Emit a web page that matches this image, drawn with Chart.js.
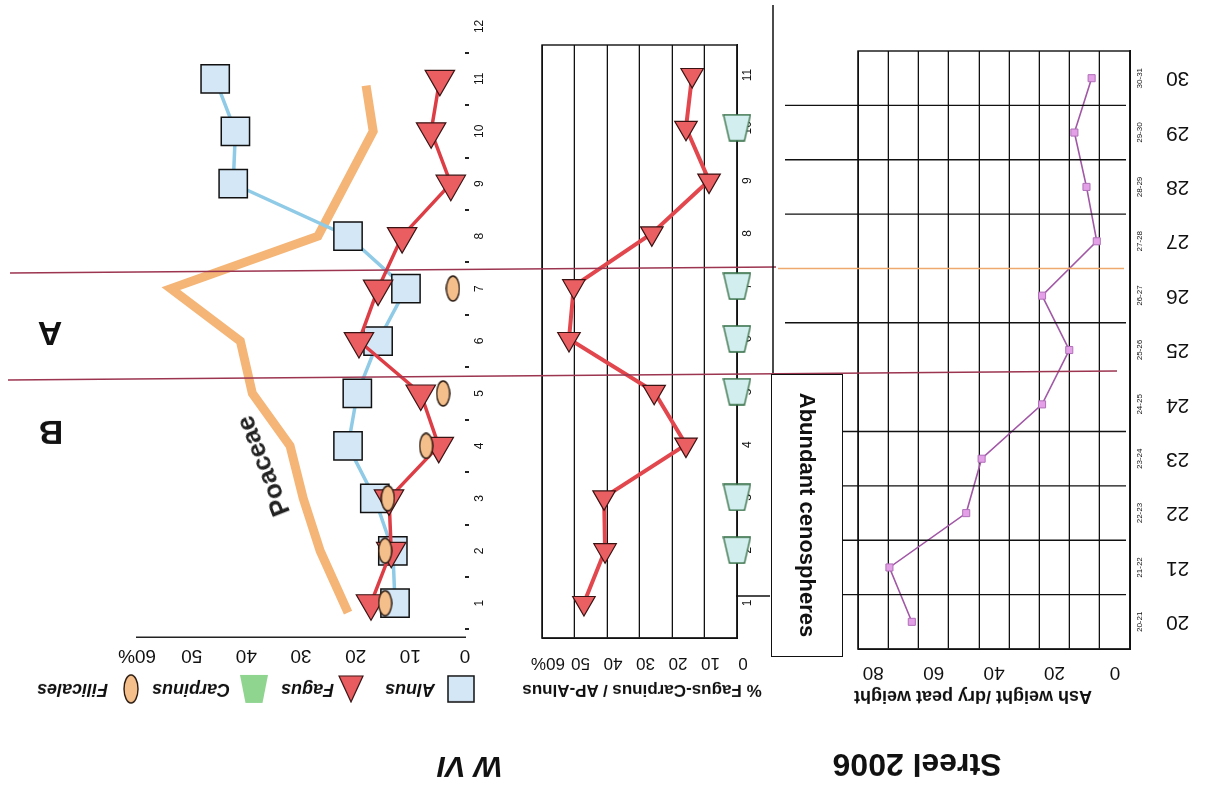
<!DOCTYPE html>
<html>
<head>
<meta charset="utf-8">
<title>W VI / Streel 2006</title>
<script src="https://cdn.jsdelivr.net/npm/chart.js"></script>
<style>
  html, body { margin: 0; padding: 0; background: #fff; }
  body { width: 1207px; height: 787px; overflow: hidden; font-family: "Liberation Sans", Arial, sans-serif; }
  /* the scanned figure is upside down: draw it upright, then turn the whole sheet */
  #fig { position: absolute; left: 0; top: 0; width: 1207px; height: 787px; transform: rotate(180deg); }
  #fig canvas { position: absolute; left: 0; top: 0; }
  .txt { position: absolute; white-space: nowrap; color: #111; font-weight: bold; transform: translate(-50%, -50%); }
  .leg { position: absolute; white-space: nowrap; color: #111; font-weight: bold; font-style: italic; font-size: 18px; transform: translateY(-50%); }
  #ceno { position: absolute; left: 364px; top: 130px; width: 70px; height: 281px; border: 1.5px solid #111; background: #fff; }
  #ceno span { position: absolute; left: 50%; top: 50%; transform: translate(-50%, -50%) rotate(-90deg); font-size: 22px; font-weight: bold; white-space: nowrap; color: #111; }
</style>
</head>
<body>
<div id="fig">
  <canvas id="pollen" width="1207" height="787"></canvas>
  <canvas id="ratio" width="1207" height="787"></canvas>
  <canvas id="ashChart" width="1207" height="787"></canvas>

  <div class="txt" style="left:737px;top:20px;font-size:30px;font-style:italic;">W VI</div>
  <div class="txt" style="left:290px;top:22px;font-size:32px;">Streel 2006</div>
  <div class="txt" style="left:565px;top:97px;font-size:17px;">% Fagus-Carpinus / AP-Alnus</div>
  <div class="txt" style="left:234px;top:90px;font-size:18px;">Ash weight /dry peat weight</div>
  <div class="txt" style="left:1157px;top:453px;font-size:34px;">A</div>
  <div class="txt" style="left:1156px;top:354px;font-size:34px;">B</div>
  <div class="txt" style="left:944px;top:321px;font-size:26px;color:#222;transform:translate(-50%,-50%) rotate(68.5deg);">Poaceae</div>
  <div id="ceno"><span>Abundant cenospheres</span></div>
  <div id="legend"></div>
</div>

<script>
"use strict";

// W VI pollen percentages, samples 1-11
const samples = [1, 2, 3, 4, 5, 6, 7, 8, 9, 10, 11];
const alnus = [12.8, 13.2, 16.5, 21.4, 19.7, 15.9, 10.8, 21.4, 42.4, 42.0, 45.7];
const fagus = [17.2, 13.5, 13.9, 4.8, 8.1, 19.4, 15.9, 11.5, 2.6, 6.2, 4.6];
const filicales = [14.6, 14.6, 14.1, 7.1, 4.0, null, 2.2, null, null, null, null];
const poaceaeDepth = [0.82, 2, 3, 4, 5, 6, 7, 8, 10, 10.87];
const poaceae = [21.4, 26.5, 29.6, 32.0, 38.9, 41.1, 53.8, 26.9, 16.8, 18.1];
const pctTicks = [0, 10, 20, 30, 40, 50, 60];

// % Fagus-Carpinus / AP-Alnus
const fagusRatio = [47.1, 40.6, 40.9, 15.7, 25.5, 51.7, 50.2, 26.2, 8.6, 15.7, 13.8];
const carpinusSamples = [2, 3, 5, 6, 7, 10];
const carpinus = [0, 0, 0, 0, 0, 0];

// Streel 2006, ash weight / dry peat weight
const ashSamples = [20, 21, 22, 23, 24, 25, 26, 27, 28, 29, 30];
const ashRanges = ["20-21", "21-22", "22-23", "23-24", "24-25", "25-26", "26-27", "27-28", "28-29", "29-30", "30-31"];
const ash = [67.2, 74.6, 49.2, 44.1, 24.1, 15.1, 24.1, 6.0, 9.4, 13.4, 7.7];
const ashGrid = [-5, 5, 15, 25, 35, 45, 55, 65, 75, 85];
const ashBoundaries = [20.5, 21.5, 22.5, 23.5, 24.5, 25.5, 26.5, 27.5, 28.5, 29.5];

// sample axis of the pollen diagram: labels on whole samples, tick dots between
const pollenTicks = [];
for (let v = 0.5; v <= 12; v += 0.5) pollenTicks.push(v);

Chart.defaults.font.family = '"Liberation Sans", Arial, sans-serif';
Chart.defaults.color = "#111";

function points(values, depths) {
  const out = [];
  values.forEach(function (v, i) {
    if (v !== null) out.push({ x: v, y: depths[i] });
  });
  return out;
}

function fixedTicks(values) {
  return function (s) {
    s.ticks = values.map(function (v) { return { value: v }; });
  };
}

function makeIcon(w, h, paint) {
  const c = document.createElement("canvas");
  c.width = w;
  c.height = h;
  paint(c.getContext("2d"), w, h);
  return c;
}

function ellipseIcon(w, h) {
  return makeIcon(w, h, function (ctx) {
    ctx.beginPath();
    ctx.ellipse(w / 2, h / 2, w / 2 - 1, h / 2 - 1, 0, 0, Math.PI * 2);
    ctx.fillStyle = "#f5bf8c";
    ctx.fill();
    ctx.lineWidth = 1.4;
    ctx.strokeStyle = "#2a1a10";
    ctx.stroke();
  });
}

function trapIcon(w, h, top, fill, stroke) {
  return makeIcon(w, h, function (ctx) {
    const inset = (w - top) / 2;
    ctx.beginPath();
    ctx.moveTo(inset, 1);
    ctx.lineTo(w - inset, 1);
    ctx.lineTo(w - 1, h - 1);
    ctx.lineTo(1, h - 1);
    ctx.closePath();
    ctx.fillStyle = fill;
    ctx.fill();
    if (stroke) {
      ctx.lineWidth = 1.3;
      ctx.strokeStyle = stroke;
      ctx.stroke();
    }
  });
}

function squareIcon(s) {
  return makeIcon(s, s, function (ctx) {
    ctx.fillStyle = "#d4e7f6";
    ctx.fillRect(1, 1, s - 2, s - 2);
    ctx.lineWidth = 1.5;
    ctx.strokeStyle = "#111";
    ctx.strokeRect(1, 1, s - 2, s - 2);
  });
}

function triangleIcon(w, h) {
  return makeIcon(w, h, function (ctx) {
    ctx.beginPath();
    ctx.moveTo(w / 2, 1);
    ctx.lineTo(w - 1, h - 1);
    ctx.lineTo(1, h - 1);
    ctx.closePath();
    ctx.fillStyle = "#e85b5e";
    ctx.fill();
    ctx.lineWidth = 1.2;
    ctx.strokeStyle = "#3a1414";
    ctx.stroke();
  });
}

const filicalesPoint = ellipseIcon(15, 27);
const carpinusPoint = trapIcon(29, 28, 15, "#d3eeee", "#2f6b40");

// frame round the plot area
const framePlugin = {
  id: "frame",
  beforeDatasetsDraw(chart, args, opts) {
    const a = chart.chartArea;
    const ctx = chart.ctx;
    ctx.save();
    ctx.lineWidth = opts.width || 1.3;
    ctx.strokeStyle = opts.color || "#111";
    ctx.strokeRect(a.left, a.top, a.right - a.left, a.bottom - a.top);
    ctx.restore();
  },
};

// stratigraphic lines drawn across the sheet
const stratPlugin = {
  id: "strat",
  afterDraw(chart) {
    const ctx = chart.ctx;
    const y = chart.scales.y;
    const a = chart.chartArea;
    ctx.save();
    ctx.lineWidth = 1.4;
    ashBoundaries.forEach(function (b) {
      if (b === 24.5) return;
      const py = y.getPixelForValue(b);
      ctx.beginPath();
      if (b === 26.5) {
        ctx.strokeStyle = "#eeaa6e";
        ctx.moveTo(a.left + 6, py);
        ctx.lineTo(429, py);
      } else {
        ctx.strokeStyle = "#111";
        ctx.moveTo(a.left + 4, py);
        ctx.lineTo(py > 414 ? 422 : 364, py);
      }
      ctx.stroke();
    });
    // zone limits A / B
    ctx.strokeStyle = "#9c3550";
    ctx.lineWidth = 1.6;
    ctx.beginPath();
    ctx.moveTo(1197, 514);
    ctx.lineTo(431, 520);
    ctx.moveTo(1199, 407);
    ctx.lineTo(90, 416);
    ctx.stroke();
    ctx.strokeStyle = "#111";
    ctx.lineWidth = 1.5;
    ctx.beginPath();
    ctx.moveTo(434, 414);
    ctx.lineTo(434, 782);
    ctx.moveTo(437, 191);
    ctx.lineTo(471, 191);
    ctx.stroke();
    ctx.restore();
  },
};

const pctLabel = function (v) {
  return v === 60 ? "60%" : String(v);
};
const sampleLabel = function (v) {
  return Number.isInteger(v) ? String(v) : "";
};

// ---- W VI pollen diagram ----
new Chart(document.getElementById("pollen"), {
  type: "line",
  data: {
    datasets: [
      {
        label: "Filicales",
        data: points(filicales, samples),
        showLine: false,
        pointStyle: filicalesPoint,
        clip: false,
      },
      {
        label: "Fagus",
        data: points(fagus, samples),
        borderColor: "#dd3d45",
        borderWidth: 3.5,
        pointStyle: "triangle",
        pointRadius: 17,
        pointBackgroundColor: "#ea5d61",
        pointBorderColor: "#3a1414",
        pointBorderWidth: 1.2,
        clip: false,
      },
      {
        label: "Alnus",
        data: points(alnus, samples),
        borderColor: "#8fcae6",
        borderWidth: 3.5,
        pointStyle: "rect",
        pointRadius: 20,
        pointBackgroundColor: "#d4e7f6",
        pointBorderColor: "#111",
        pointBorderWidth: 1.5,
        clip: false,
      },
      {
        label: "Poaceae",
        data: points(poaceae, poaceaeDepth),
        borderColor: "#f4b577",
        borderWidth: 9,
        borderJoinStyle: "miter",
        pointRadius: 0,
        clip: false,
      },
    ],
  },
  options: {
    responsive: false,
    animation: false,
    events: [],
    layout: { autoPadding: false, padding: { left: 712, right: 137, top: 120, bottom: 7 } },
    plugins: { legend: { display: false }, tooltip: { enabled: false } },
    scales: {
      x: {
        type: "linear",
        position: "top",
        bounds: "data",
        min: 0,
        max: 60,
        afterBuildTicks: fixedTicks(pctTicks),
        ticks: { callback: pctLabel, font: { size: 19 }, padding: 7, maxRotation: 0, autoSkip: false },
        grid: { drawOnChartArea: false, drawTicks: false },
        border: { display: true, color: "#222", width: 1.5 },
        afterFit: function (s) { s.height = 30; },
      },
      y: {
        type: "linear",
        reverse: true,
        bounds: "data",
        min: 0.356,
        max: 12.29,
        afterBuildTicks: fixedTicks(pollenTicks),
        ticks: {
          autoSkip: false,
          callback: sampleLabel,
          font: { size: 12 },
          minRotation: -90,
          maxRotation: -90,
          crossAlign: "center",
          padding: 4,
        },
        grid: {
          drawOnChartArea: false,
          tickLength: 4,
          lineWidth: 2,
          color: function (ctx) {
            return ctx.tick && ctx.tick.value % 1 !== 0 ? "#222" : "rgba(0,0,0,0)";
          },
        },
        border: { display: false },
        afterFit: function (s) { s.width = 30; },
      },
    },
  },
});

// ---- % Fagus-Carpinus / AP-Alnus ----
new Chart(document.getElementById("ratio"), {
  type: "line",
  data: {
    datasets: [
      {
        label: "Carpinus",
        data: points(carpinus, carpinusSamples),
        showLine: false,
        pointStyle: carpinusPoint,
        clip: false,
      },
      {
        label: "Fagus-Carpinus / AP-Alnus",
        data: points(fagusRatio, samples),
        borderColor: "#e2474d",
        borderWidth: 4,
        pointStyle: "triangle",
        pointRadius: 13,
        pointBackgroundColor: "#ea5f62",
        pointBorderColor: "#3b1212",
        pointBorderWidth: 1.2,
        clip: false,
      },
    ],
  },
  options: {
    responsive: false,
    animation: false,
    events: [],
    layout: { autoPadding: false, padding: { left: 440, right: 542, top: 85, bottom: 45 } },
    plugins: { legend: { display: false }, tooltip: { enabled: false }, frame: { width: 1.4 } },
    scales: {
      x: {
        type: "linear",
        position: "top",
        bounds: "data",
        min: 0,
        max: 60,
        afterBuildTicks: fixedTicks(pctTicks),
        ticks: { callback: pctLabel, font: { size: 17 }, padding: 14, labelOffset: -6, maxRotation: 0, autoSkip: false },
        grid: { color: "#111", lineWidth: 1.3, drawTicks: false },
        border: { display: true, color: "#111", width: 1.5 },
        afterFit: function (s) { s.height = 64; },
      },
      y: {
        type: "linear",
        reverse: true,
        bounds: "data",
        min: 0.337,
        max: 11.568,
        afterBuildTicks: fixedTicks(samples),
        ticks: {
          autoSkip: false,
          callback: sampleLabel,
          font: { size: 12 },
          minRotation: -90,
          maxRotation: -90,
          crossAlign: "center",
          padding: 4,
        },
        grid: { display: false, drawTicks: false },
        border: { display: true, color: "#111", width: 1.5 },
        afterFit: function (s) { s.width = 30; },
      },
    },
  },
  plugins: [framePlugin],
});

// ---- Streel 2006 ash weight ----
new Chart(document.getElementById("ashChart"), {
  type: "line",
  data: {
    datasets: [
      {
        label: "Ash weight /dry peat weight",
        data: points(ash, ashSamples),
        borderColor: "#a157a6",
        borderWidth: 1.6,
        pointStyle: "rect",
        pointRadius: 5,
        pointBackgroundColor: "#e3a0e6",
        pointBorderColor: "#b070b8",
        pointBorderWidth: 1,
        clip: false,
      },
    ],
  },
  options: {
    responsive: false,
    animation: false,
    events: [],
    layout: { autoPadding: false, padding: { left: 0, right: 858, top: 78, bottom: 51 } },
    plugins: { legend: { display: false }, tooltip: { enabled: false }, frame: { width: 1.4 } },
    scales: {
      x: {
        type: "linear",
        position: "top",
        bounds: "data",
        min: -5,
        max: 85,
        afterBuildTicks: fixedTicks(ashGrid),
        ticks: {
          autoSkip: false,
          maxRotation: 0,
          font: { size: 19 },
          padding: 12,
          labelOffset: 15,
          callback: function (v) {
            const c = v + 5;
            return c % 20 === 0 && c <= 80 ? String(c) : "";
          },
        },
        grid: { color: "#111", lineWidth: 1.3, drawTicks: false },
        border: { display: true, color: "#111", width: 1.5 },
        afterFit: function (s) { s.height = 60; },
      },
      y: {
        type: "linear",
        position: "left",
        reverse: true,
        bounds: "data",
        min: 19.5,
        max: 30.5,
        weight: 0,
        afterBuildTicks: fixedTicks(ashSamples),
        ticks: {
          autoSkip: false,
          font: { size: 8 },
          minRotation: -90,
          maxRotation: -90,
          crossAlign: "center",
          padding: 0,
          callback: function (v) {
            const i = ashSamples.indexOf(v);
            return i >= 0 ? ashRanges[i] : "";
          },
        },
        grid: { display: false, drawTicks: false },
        border: { display: true, color: "#111", width: 1.8 },
        afterFit: function (s) { s.width = 27; },
      },
      yBig: {
        type: "linear",
        position: "left",
        reverse: true,
        bounds: "data",
        min: 19.5,
        max: 30.5,
        weight: 1,
        afterBuildTicks: fixedTicks(ashSamples),
        ticks: {
          autoSkip: false,
          font: { size: 21 },
          padding: 9,
          callback: function (v) {
            return ashSamples.indexOf(v) >= 0 ? String(v) : "";
          },
        },
        grid: { display: false, drawTicks: false },
        border: { display: false },
        afterFit: function (s) { s.width = 50; },
      },
    },
  },
  plugins: [framePlugin, stratPlugin],
});

// ---- legend (Alnus, Fagus, Carpinus, Filicales) ----
const legendItems = [
  { label: "Alnus", icon: squareIcon(28), iconX: 732, textX: 772 },
  { label: "Fagus", icon: triangleIcon(26, 28), iconX: 843, textX: 873 },
  { label: "Carpinus", icon: trapIcon(30, 30, 17, "#8fd48f", null), iconX: 938, textX: 977 },
  { label: "Filicales", icon: ellipseIcon(16, 30), iconX: 1068, textX: 1099 },
];
const legend = document.getElementById("legend");
legendItems.forEach(function (item) {
  const c = item.icon;
  c.style.position = "absolute";
  c.style.left = item.iconX + "px";
  c.style.top = 98 - c.height / 2 + "px";
  legend.appendChild(c);
  const t = document.createElement("div");
  t.className = "leg";
  t.style.left = item.textX + "px";
  t.style.top = "97px";
  t.textContent = item.label;
  legend.appendChild(t);
});
</script>
</body>
</html>
